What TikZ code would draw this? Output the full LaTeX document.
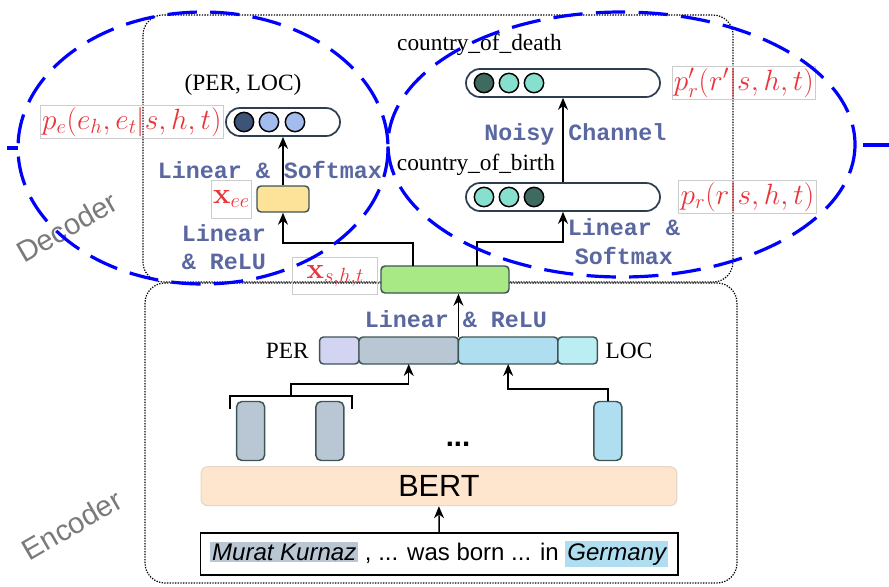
\RequirePackage{fix-cm}
\documentclass[tikz,border=0pt]{standalone}
\usepackage{amsmath}
\usepackage[no-math]{fontspec}
\setmainfont{Liberation Serif}
\setsansfont{Liberation Sans}
\setmonofont{Liberation Mono}
\usepackage{xcolor}
\usepackage{tikz}
\usetikzlibrary{arrows.meta,positioning}

\definecolor{dashblue}{HTML}{0000FF}
\definecolor{opblue}{HTML}{5A67A0}
\definecolor{mathred}{HTML}{E8343A}
\definecolor{tagline}{HTML}{CCCCCC}
\definecolor{bardark}{HTML}{2C3E50}
\definecolor{navydot}{HTML}{3D5478}
\definecolor{skydot}{HTML}{A3BCEE}
\definecolor{tealdot}{HTML}{86E0CD}
\definecolor{pinedot}{HTML}{3E6A60}
\definecolor{eeyellow}{HTML}{FDE39A}
\definecolor{shtgreen}{HTML}{A8E985}
\definecolor{boxedge}{HTML}{3D5555}
\definecolor{perlav}{HTML}{D3D3F2}
\definecolor{pergray}{HTML}{B9C7D5}
\definecolor{locblue}{HTML}{B0DEF1}
\definecolor{loccyan}{HTML}{BBEEF2}
\definecolor{bertfill}{HTML}{FDE5CE}
\definecolor{bertedge}{HTML}{E6D6C6}
\definecolor{sidegray}{HTML}{7A7A7A}

\begin{document}
\begin{tikzpicture}[x=0.75pt,y=-0.75pt,
	txt/.style={inner sep=1pt,font=\fontsize{17.5}{21}\selectfont},
	op/.style={inner sep=1pt,align=center,text=opblue,font=\fontsize{17.5}{22}\selectfont\ttfamily\bfseries},
	mtag/.style={draw=tagline,line width=0.6pt,inner sep=1.5pt,text=mathred,font=\fontsize{22}{25}\selectfont},
	side/.style={rotate=30,text=sidegray,font=\fontsize{22}{24}\selectfont\sffamily},
	region/.style={draw,line width=0.9pt,dash pattern=on 1pt off 1pt,rounded corners=15pt},
	blueloop/.style={draw=dashblue,line width=2.4pt,dash pattern=on 22pt off 10pt},
	probs/.style={draw=bardark,line width=1.3pt,fill=white,rounded corners=10.5pt,minimum height=21pt,inner sep=0pt},
	dot/.style={circle,draw=black,line width=1.1pt,minimum size=14.5pt,inner sep=0pt},
	vec/.style={draw=boxedge,line width=1.1pt,rounded corners=3pt,inner sep=0pt},
	seg/.style={draw=boxedge,line width=1.1pt,rounded corners=3pt,inner sep=0pt,outer sep=0pt,minimum height=20.25pt},
	tok/.style={draw=boxedge,line width=1.1pt,rounded corners=4pt,inner sep=0pt,minimum width=21pt,minimum height=44.25pt},
	conn/.style={line width=1.1pt,-{Stealth[length=9pt,width=7.5pt]}}]
	\useasboundingbox (0,0) rectangle (889,586);
	\draw[region] (143,15) rectangle (733,282);
	\draw[region] (145,283) rectangle (737,583);
	\node[side] at (67,227) {Decoder};
	\node[side] at (72,525) {Encoder};

	\node[inner sep=1pt,outer sep=0pt,draw,line width=1.3pt,minimum width=357.9pt,minimum height=31.3pt,font=\fontsize{18}{21}\selectfont\sffamily] (sent) at (439.2,554.2) {\setlength\fboxsep{1.5pt}\colorbox{pergray}{\itshape Murat Kurnaz} , ... was born ... in \colorbox{locblue}{\itshape Germany}};
	\node[draw=bertedge,fill=bertfill,line width=0.8pt,rounded corners=5pt,minimum width=356.8pt,minimum height=29.25pt,inner sep=0pt,font=\fontsize{23}{26}\selectfont\sffamily] (bert) at (438.9,486.2) {BERT};
	\draw[conn] (sent.north) -- (bert.south);
	\node[tok,fill=pergray] (tok1) at (250.6,431) {};
	\node[tok,fill=pergray] (tok2) at (329.8,431) {};
	\node[tok,fill=locblue] (tok3) at (607.8,431) {};
	\node[inner sep=0pt,font=\fontsize{22}{24}\selectfont\sffamily\bfseries] (gap) at (458,444) {...};

	\node[seg,fill=perlav,minimum width=29.6pt] (perhead) at (339.25,350.5) {};
	\node[seg,fill=pergray,minimum width=74.6pt,right=0pt of perhead] (perspan) {};
	\node[seg,fill=locblue,minimum width=74.6pt,right=0pt of perspan] (locspan) {};
	\node[seg,fill=loccyan,minimum width=29.6pt,right=0pt of locspan] (loctail) {};
	\node[txt,left=7pt of perhead] {PER};
	\node[txt,right=5pt of loctail] {LOC};
	\coordinate (brl) at (230,409);
	\coordinate (brr) at (352,409);
	\draw[line width=1.1pt] (brl) -- ++(0,-13) -| (brr);
	\draw[conn] (291,396) -- ++(0,-12) -| (perspan.south);
	\draw[conn] (tok3.north) -- ++(0,-12) -| (locspan.south);

	\node[vec,fill=shtgreen,minimum width=96pt,minimum height=20.25pt] (sht) at (445,279.5) {};
	\node[mtag,minimum width=63.75pt,minimum height=27.75pt,left=1.5pt of sht,yshift=2.5pt] {$\mathbf{x}_{s,h,t}$};
	\draw[conn] (perspan.north east) -- (perspan.north east |- sht.south);
	\node[op] at (456,319) {Linear \& ReLU};

	\coordinate (shtl) at (413,266);
	\coordinate (shtr) at (477,266);
	\node[vec,fill=eeyellow,minimum width=39pt,minimum height=19.5pt] (ee) at (283,199) {};
	\node[mtag,minimum width=29pt,minimum height=28.5pt,left=3pt of ee] {$\mathbf{x}_{ee}$};
	\draw[conn] (shtl) -- ++(0,-23) -| (ee.south);
	\node[op] at (224,247) {Linear\\[-0.6pt]\& ReLU};
	\node[probs,minimum width=85.5pt] (pairbar) at (283,122) {};
	\foreach \x/\c [count=\i] in {244/navydot,269/skydot,295/skydot}
		\node[dot,fill=\c] (pd\i) at (\x,122) {};
	\node[mtag,left=1pt of pairbar] (pe) {$p_e(e_h,e_t|s,h,t)$};
	\node[txt] at (243,85) {(PER, LOC)};
	\draw[conn] (ee.north) -- (pairbar.south);
	\node[op] at (270,170) {Linear \& Softmax};

	\node[probs,minimum width=145.5pt] (birthbar) at (563,197) {};
	\node[probs,minimum width=145.5pt] (deathbar) at (563,83) {};
	\foreach \x/\c [count=\i] in {484/tealdot,509/tealdot,534/pinedot}
		\node[dot,fill=\c] (bd\i) at (\x,197) {};
	\foreach \x/\c [count=\i] in {484/pinedot,509/tealdot,534/tealdot}
		\node[dot,fill=\c] (dd\i) at (\x,83) {};
	\draw[conn] (shtr) -- ++(0,-24) -| (birthbar.south);
	\draw[conn] (birthbar.north) -- (deathbar.south);
	\node[txt] at (479.5,45) {country\_of\_death};
	\node[txt] at (476,165) {country\_of\_birth};
	\node[op] at (575.5,134) {Noisy Channel};
	\node[op] at (624,241.5) {Linear \&\\[-0.6pt]Softmax};
	\node[mtag,right=8pt of deathbar] {$p'_r(r'|s,h,t)$};
	\node[mtag,right=13pt of birthbar] {$p_r(r|s,h,t)$};

	\draw[blueloop] (203,148) ellipse [x radius=185,y radius=136];
	\draw[blueloop] (621.5,144.5) ellipse [x radius=233.5,y radius=132.5];
	\coordinate (tickl) at (7,148);
	\coordinate (tickr) at (889,145);
	\draw[dashblue,line width=2.4pt] (tickl) -- ++(11,0);
	\draw[dashblue,line width=2.4pt] (tickr) -- ++(-26,0);
\end{tikzpicture}
\end{document}
